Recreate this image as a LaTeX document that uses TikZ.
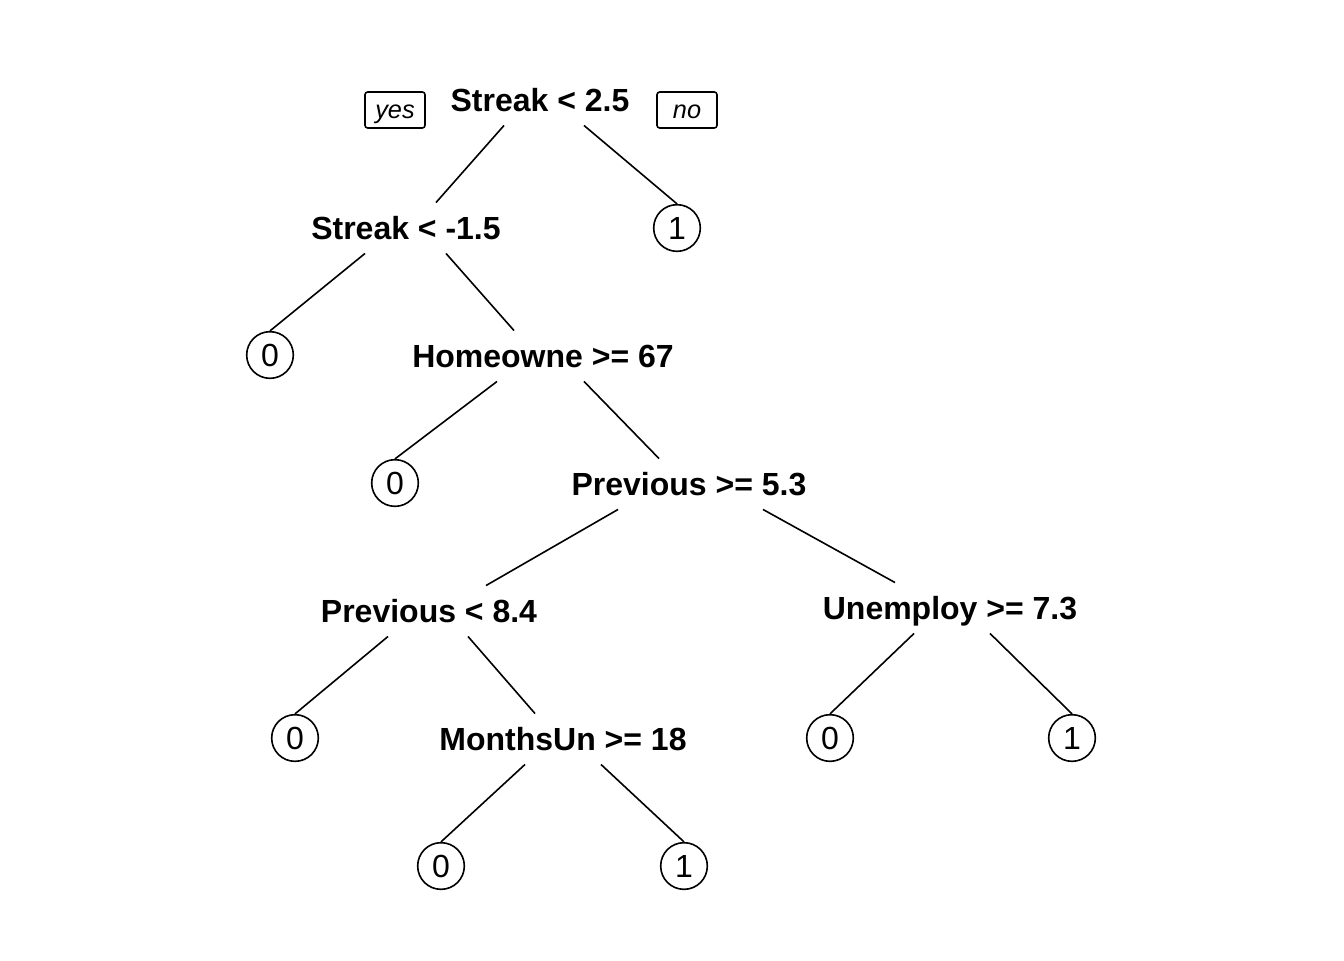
\documentclass[tikz,border=0pt]{standalone}
\usepackage{fontspec}
\setmainfont{Liberation Sans}
\usetikzlibrary{calc}

\begin{document}
\begin{tikzpicture}[x=0.75pt,y=-0.75pt,line width=1.2pt,
		split node/.style = {inner sep = 0pt, minimum height = 37pt, text height = 17pt, text depth = 0pt,
			font = \fontsize{24}{24}\bfseries\selectfont},
		leaf node/.style = {circle,draw, inner sep = 0pt, minimum size = 35pt, text height = 17pt, text depth = 0pt,
			font = \fontsize{24}{24}\selectfont},
		side node/.style = {draw, rounded corners = 2pt, inner sep = 0pt, minimum width = 45pt, minimum height = 27pt,
			text height = 14pt, text depth = 2pt, font = \fontsize{19}{19}\itshape\selectfont}]
		
		\useasboundingbox (0,0) rectangle (1344,960);
		
		\node[split node] at (540,100) (1) {Streak < 2.5};
		\node[side node] at (395,110) (yes) {yes};
		\node[side node] at (687,110) (no) {no};
		\node[split node] at (406,228) (2) {Streak < -1.5};
		\node[leaf node] at (677,228) (3) {1};
		\node[leaf node] at (270,355) (4) {0};
		\node[split node] at (543,356) (5) {Homeowne >= 67};
		\node[leaf node] at (395,483) (6) {0};
		\node[split node] at (689,484) (7) {Previous >= 5.3};
		\node[split node] at (429,611) (8) {Previous < 8.4};
		\node[split node] at (950,608) (9) {Unemploy >= 7.3};
		\node[leaf node] at (295,738) (10) {0};
		\node[split node] at (563,739) (11) {MonthsUn >= 18};
		\node[leaf node] at (830,738) (12) {0};
		\node[leaf node] at (1072,738) (13) {1};
		\node[leaf node] at (441,866) (14) {0};
		\node[leaf node] at (684,866) (15) {1};
		
		\draw ($(1.south)+(-36,0)$) -- ($(2.north)+(30,0)$);
		\draw ($(1.south)+(44,0)$) -- (3.north);
		\draw ($(2.south)+(-41,0)$) -- (4.north);
		\draw ($(2.south)+(40,0)$) -- ($(5.north)+(-29,0)$);
		\draw ($(5.south)+(-46,0)$) -- (6.north);
		\draw ($(5.south)+(41,0)$) -- ($(7.north)+(-30,0)$);
		\draw ($(7.south)+(-71,0)$) -- ($(8.north)+(57,0)$);
		\draw ($(7.south)+(74,0)$) -- ($(9.north)+(-55,0)$);
		\draw ($(8.south)+(-41,0)$) -- (10.north);
		\draw ($(8.south)+(39,0)$) -- ($(11.north)+(-28,0)$);
		\draw ($(9.south)+(-36,0)$) -- (12.north);
		\draw ($(9.south)+(40,0)$) -- (13.north);
		\draw ($(11.south)+(-38,0)$) -- (14.north);
		\draw ($(11.south)+(38,0)$) -- (15.north);
	\end{tikzpicture}
\end{document}
